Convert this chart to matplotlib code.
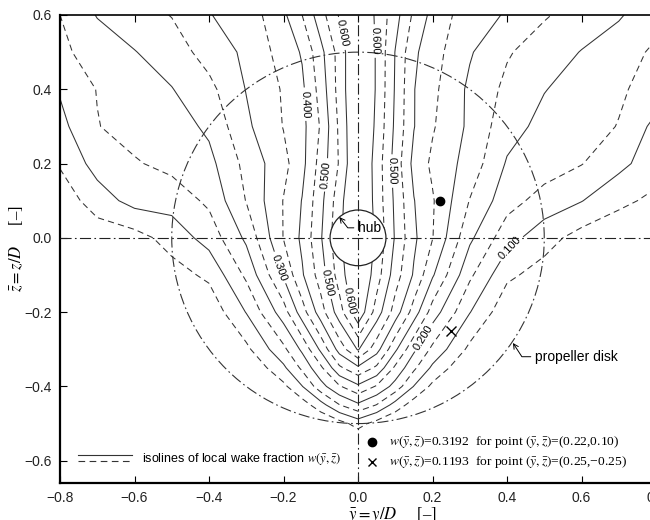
import numpy as np
import matplotlib
matplotlib.use("Agg")
import matplotlib.pyplot as plt
from matplotlib.patches import Circle
from matplotlib.lines import Line2D

plt.rcParams["font.family"] = ["Liberation Sans", "DejaVu Sans"]
plt.rcParams["mathtext.fontset"] = "stix"

# grid of local wake fraction (rows from top z=0.6 down)
y_grid = [-0.8, -0.7, -0.6, -0.5, -0.4, -0.3, -0.2, -0.15, -0.1, -0.05, 0.0,
          0.05, 0.1, 0.15, 0.2, 0.3, 0.4, 0.5, 0.6, 0.7, 0.8]
z_grid = [0.6, 0.5, 0.4, 0.3, 0.2, 0.1, 0.0, -0.1, -0.2, -0.3, -0.35,
          -0.4, -0.45, -0.5, -0.55, -0.66]
w_rows = [
    [0.150, 0.203, 0.228, 0.252, 0.298, 0.320, 0.390, 0.450, 0.530, 0.605, 0.660, 0.590, 0.520, 0.440, 0.385, 0.320, 0.296, 0.255, 0.228, 0.205, 0.170],
    [0.140, 0.170, 0.198, 0.225, 0.270, 0.310, 0.370, 0.405, 0.485, 0.570, 0.660, 0.595, 0.498, 0.410, 0.370, 0.305, 0.255, 0.225, 0.198, 0.175, 0.140],
    [0.105, 0.152, 0.180, 0.198, 0.236, 0.302, 0.355, 0.390, 0.470, 0.570, 0.660, 0.595, 0.495, 0.402, 0.362, 0.290, 0.238, 0.202, 0.180, 0.157, 0.130],
    [0.085, 0.148, 0.170, 0.175, 0.210, 0.290, 0.352, 0.385, 0.455, 0.560, 0.660, 0.590, 0.490, 0.402, 0.355, 0.290, 0.220, 0.185, 0.170, 0.148, 0.085],
    [0.055, 0.120, 0.145, 0.165, 0.185, 0.265, 0.335, 0.385, 0.470, 0.555, 0.660, 0.580, 0.480, 0.385, 0.340, 0.280, 0.195, 0.175, 0.152, 0.115, 0.070],
    [0.020, 0.075, 0.118, 0.120, 0.160, 0.252, 0.352, 0.402, 0.485, 0.580, 0.670, 0.580, 0.490, 0.402, 0.355, 0.248, 0.170, 0.130, 0.102, 0.060, 0.040],
    [0.010, 0.020, 0.030, 0.070, 0.120, 0.210, 0.352, 0.410, 0.495, 0.590, 0.660, 0.590, 0.495, 0.410, 0.352, 0.210, 0.120, 0.070, 0.030, 0.020, 0.010],
    [0.000, 0.010, 0.015, 0.030, 0.060, 0.160, 0.306, 0.394, 0.474, 0.574, 0.660, 0.574, 0.474, 0.394, 0.306, 0.160, 0.060, 0.030, 0.015, 0.010, 0.000],
    [0.000, 0.000, 0.000, 0.005, 0.015, 0.102, 0.227, 0.327, 0.427, 0.527, 0.640, 0.527, 0.427, 0.327, 0.227, 0.102, 0.015, 0.005, 0.000, 0.000, 0.000],
    [0.000, 0.000, 0.000, 0.000, 0.000, 0.038, 0.138, 0.210, 0.310, 0.420, 0.505, 0.420, 0.310, 0.210, 0.138, 0.038, 0.000, 0.000, 0.000, 0.000, 0.000],
    [0.000, 0.000, 0.000, 0.000, 0.000, 0.000, 0.090, 0.160, 0.240, 0.340, 0.390, 0.340, 0.240, 0.160, 0.090, 0.000, 0.000, 0.000, 0.000, 0.000, 0.000],
    [0.000, 0.000, 0.000, 0.000, 0.000, 0.000, 0.038, 0.098, 0.180, 0.245, 0.290, 0.245, 0.180, 0.098, 0.038, 0.000, 0.000, 0.000, 0.000, 0.000, 0.000],
    [0.000, 0.000, 0.000, 0.000, 0.000, 0.000, 0.000, 0.025, 0.080, 0.148, 0.190, 0.148, 0.080, 0.025, 0.000, 0.000, 0.000, 0.000, 0.000, 0.000, 0.000],
    [0.000, 0.000, 0.000, 0.000, 0.000, 0.000, 0.000, 0.000, 0.000, 0.030, 0.070, 0.030, 0.000, 0.000, 0.000, 0.000, 0.000, 0.000, 0.000, 0.000, 0.000],
    [0.0] * 21,
    [0.0] * 21,
]

solid_levels = [0.10, 0.20, 0.30, 0.40, 0.50, 0.60]
dashed_levels = [0.05, 0.15, 0.25, 0.35, 0.45, 0.55]
label_spots = [(-0.045, 0.55), (0.045, 0.53), (-0.14, 0.36), (-0.09, 0.17),
               (0.093, 0.18), (-0.21, -0.08), (0.42, -0.04), (-0.08, -0.12),
               (-0.02, -0.17), (0.18, -0.27)]

x_ticks = [-0.8, -0.6, -0.4, -0.2, 0.0, 0.2, 0.4, 0.6, 0.8]
y_ticks = [-0.6, -0.4, -0.2, 0.0, 0.2, 0.4, 0.6]

# the two sample points
pt_y = [0.22, 0.25]
pt_z = [0.10, -0.25]
pt_w = [0.3192, 0.1193]

hub_r = 0.075
disk_r = 0.5


def num(v, fmt):
    return (fmt % v).replace("-", "\u2212")


fig = plt.figure(figsize=(6.5, 5.2), dpi=100)
ax = fig.add_axes([60 / 650, 37 / 520, 596 / 650, 468 / 520])

Y = np.array(y_grid)
Z = np.array(z_grid)[::-1]
W = np.array(w_rows)[::-1]

ax.contour(Y, Z, W, levels=dashed_levels, colors="#333333", linewidths=0.75,
           linestyles=[(0, (6, 4))])
cs = ax.contour(Y, Z, W, levels=solid_levels, colors="#333333", linewidths=0.75,
                linestyles="solid")
ax.clabel(cs, manual=label_spots, fmt="%.3f", fontsize=8, inline=True,
          inline_spacing=3, colors="k")

dashdot = (0, (10, 3, 1.5, 3))
ax.add_patch(Circle((0, 0), disk_r, fill=False, ec="#333333", lw=0.8, ls=dashdot, zorder=3))
ax.add_patch(Circle((0, 0), hub_r, fc="white", ec="#222222", lw=0.9, zorder=4))
ax.axhline(0, color="#222222", lw=0.8, ls=dashdot, zorder=5)
ax.axvline(0, color="#222222", lw=0.8, ls=dashdot, zorder=5)

ax.plot(pt_y[0], pt_z[0], "o", color="k", ms=6, zorder=6)
ax.plot(pt_y[1], pt_z[1], "x", color="k", ms=7, mew=1.0, zorder=6)

arrow = dict(arrowstyle="->,head_length=0.35,head_width=0.18", lw=0.7, color="k",
             shrinkA=1, shrinkB=0, relpos=(0, 0.5))
ax.annotate("hub", xy=(-0.05, 0.056), xytext=(0.0, 0.027), fontsize=10,
            va="center", ha="left", zorder=7,
            arrowprops=dict(arrow, connectionstyle="angle,angleA=0,angleB=128,rad=0"))
ax.annotate("propeller disk", xy=(0.416, -0.283), xytext=(0.475, -0.32), fontsize=10,
            va="center", ha="left",
            arrowprops=dict(arrow, connectionstyle="angle,angleA=0,angleB=123,rad=0"))

# key at the bottom left
ax.add_line(Line2D([0.030, 0.121], [0.060, 0.060], transform=ax.transAxes, color="#333333", lw=0.8))
ax.add_line(Line2D([0.030, 0.121], [0.046, 0.046], transform=ax.transAxes, color="#333333", lw=0.8, ls=(0, (6, 4))))
ax.text(0.138, 0.052, r"isolines of local wake fraction $w(\bar{y},\bar{z})$",
        transform=ax.transAxes, fontsize=9, va="center")

# notes for the sample points
ax.plot([0.523], [0.088], "o", color="k", ms=6, transform=ax.transAxes)
ax.plot([0.523], [0.045], "x", color="k", ms=6, mew=1.0, transform=ax.transAxes)
for i, yy in enumerate([0.088, 0.045]):
    ax.text(0.552, yy, r"$w(\bar{y},\bar{z})$=%.4f  for point $(\bar{y},\bar{z})$=(%s,%s)"
            % (pt_w[i], num(pt_y[i], "%.2f"), num(pt_z[i], "%.2f")),
            transform=ax.transAxes, fontsize=9.7, va="center", family="Liberation Serif")

ax.set_xlim(-0.8, 0.8)
ax.set_ylim(-0.66, 0.6)
ax.set_xticks(x_ticks)
ax.set_yticks(y_ticks)
ax.set_xticklabels([num(t, "%.1f") for t in x_ticks])
ax.set_yticklabels([num(t, "%.1f") for t in y_ticks])
ax.tick_params(direction="in", length=5, width=0.8, top=True, labelsize=10, pad=6,
               labelcolor="#222222")
for side in ["left", "bottom"]:
    ax.spines[side].set_linewidth(1.6)
ax.spines["top"].set_linewidth(1.2)

ax.set_xlabel(r"$\bar{y}=y/D$     [–]", fontsize=12, family="Liberation Serif")
ax.xaxis.set_label_coords(0.557, -0.048)
ax.set_ylabel(r"$\bar{z}=z/D$     [–]", fontsize=12, family="Liberation Serif")
ax.yaxis.set_label_coords(-0.058, 0.5)

fig.savefig("out.png", dpi=100)
